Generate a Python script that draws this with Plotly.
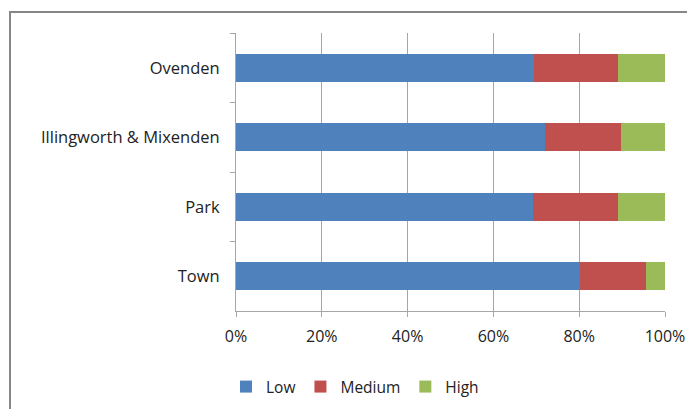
import plotly.graph_objects as go

# Share of each level by ward (fractions of 1), listed top to bottom
wards = ["Ovenden", "Illingworth & Mixenden", "Park", "Town"]
low = [0.695, 0.720, 0.693, 0.803]
medium = [0.195, 0.177, 0.197, 0.153]
high = [0.110, 0.103, 0.110, 0.044]

series_names = ["Low", "Medium", "High"]
series_colors = ["#4F81BD", "#C0504D", "#9BBB59"]

W, H = 687, 409
ML, MR, MT, MB = 236, 22, 33, 98
plot_w = W - ML - MR
plot_h = H - MT - MB

fig = go.Figure()
for name, vals, col in zip(series_names, [low, medium, high], series_colors):
    fig.add_trace(go.Bar(
        y=wards, x=vals, name=name, orientation="h",
        marker=dict(color=col, line=dict(width=0)),
    ))

font_family = "Open Sans, Noto Sans, sans-serif"

# outer chart frame (top and left edges visible inside the page)
fig.add_shape(
    type="rect", xref="paper", yref="paper",
    x0=(10 - ML) / plot_w, x1=2.0,
    y0=-2.0, y1=1 + (MT - 12) / plot_h,
    line=dict(color="#868686", width=2), fillcolor="rgba(0,0,0,0)",
    layer="below",
)

fig.update_layout(
    width=W, height=H,
    margin=dict(l=ML, r=MR, t=MT, b=MB, pad=0, autoexpand=False),
    barmode="stack",
    bargap=0.6,
    plot_bgcolor="white", paper_bgcolor="white",
    font=dict(family=font_family, size=15, color="#222222"),
    showlegend=True,
    legend=dict(
        orientation="h",
        x=(355 - ML) / plot_w, xanchor="center",
        y=-(387 - (H - MB)) / plot_h, yanchor="middle",
        font=dict(size=15.5, color="#222222"),
        itemwidth=30,
        traceorder="normal",
    ),
    xaxis=dict(
        range=[0, 1], dtick=0.2, tickformat=".0%",
        automargin=False,
        showgrid=True, gridcolor="#A6A6A6", gridwidth=1,
        zeroline=False,
        showline=True, linecolor="#A6A6A6", linewidth=1,
        ticks="outside", ticklen=5, tickcolor="#A6A6A6",
        ticklabelstandoff=6,
        tickfont=dict(size=16),
    ),
    yaxis=dict(
        type="category", autorange="reversed",
        automargin=False,
        showgrid=False, zeroline=False,
        showline=True, linecolor="#A6A6A6", linewidth=1,
        ticks="outside", ticklen=5, tickcolor="#A6A6A6",
        tickson="boundaries",
        ticklabelstandoff=12,
        tickfont=dict(size=16.5),
    ),
)

fig.write_html("out.html")
